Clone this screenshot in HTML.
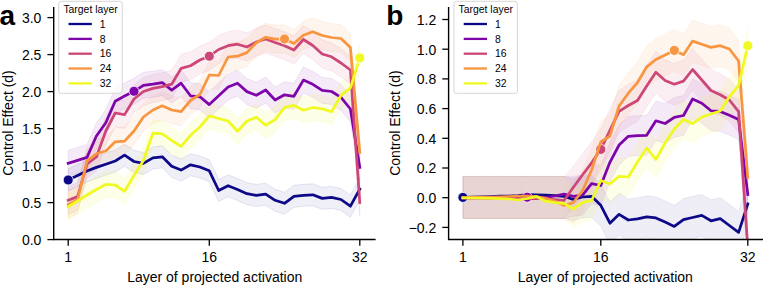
<!DOCTYPE html>
<html><head><meta charset="utf-8"><style>
html,body{margin:0;padding:0;background:#fff;}
svg{display:block;}
.t{font-family:"Liberation Sans",sans-serif;font-size:14px;fill:#000;}
.lg{font-family:"Liberation Sans",sans-serif;font-size:10.4px;fill:#000;}
.big{font-family:"Liberation Sans",sans-serif;font-size:28px;font-weight:bold;fill:#000;}
</style></head><body>
<svg width="763" height="285" viewBox="0 0 763 285">
<clipPath id="ca"><rect x="53.7" y="7.1" width="321.90000000000003" height="232.4"/></clipPath>
<g clip-path="url(#ca)">
<polygon points="68.2,169.0 77.6,164.5 87.0,160.0 96.4,156.4 105.8,153.2 115.2,150.0 124.6,144.2 134.0,150.5 143.4,152.4 152.9,146.9 162.3,145.8 171.7,155.3 181.1,159.1 190.5,153.8 199.9,156.0 209.3,159.8 218.7,179.5 228.1,174.7 237.5,178.5 246.9,182.7 256.3,184.4 265.7,183.2 275.1,189.3 284.5,192.3 293.9,185.3 303.4,184.3 312.8,183.8 322.2,187.4 331.6,186.4 341.0,188.5 350.4,195.2 359.8,178.0 359.8,200.0 350.4,217.2 341.0,210.5 331.6,208.4 322.2,209.4 312.8,205.8 303.4,206.3 293.9,207.3 284.5,214.3 275.1,211.3 265.7,205.2 256.3,206.4 246.9,204.7 237.5,200.5 228.1,196.7 218.7,201.5 209.3,181.8 199.9,178.0 190.5,175.8 181.1,181.1 171.7,177.3 162.3,167.8 152.9,168.9 143.4,174.4 134.0,172.5 124.6,166.2 115.2,172.0 105.8,175.2 96.4,178.4 87.0,182.0 77.6,186.5 68.2,191.0" fill="#0d0887" fill-opacity="0.065" stroke="#0d0887" stroke-opacity="0.09" stroke-width="1"/>
<polygon points="68.2,150.2 77.6,147.4 87.0,144.4 96.4,123.0 105.8,109.8 115.2,88.3 124.6,83.0 134.0,78.3 143.4,72.3 152.9,71.2 162.3,69.7 171.7,77.1 181.1,70.2 190.5,82.8 199.9,83.8 209.3,91.6 218.7,82.8 228.1,74.0 237.5,70.2 246.9,78.6 256.3,82.3 265.7,77.0 275.1,87.0 284.5,81.8 293.9,83.3 303.4,67.1 312.8,71.3 322.2,77.4 331.6,78.5 341.0,84.4 350.4,96.0 359.8,154.4 359.8,180.4 350.4,122.0 341.0,110.4 331.6,104.5 322.2,103.4 312.8,97.3 303.4,93.1 293.9,109.3 284.5,107.8 275.1,113.0 265.7,103.0 256.3,108.3 246.9,104.6 237.5,96.2 228.1,100.0 218.7,108.8 209.3,117.6 199.9,109.8 190.5,108.8 181.1,96.2 171.7,103.1 162.3,95.7 152.9,97.2 143.4,98.3 134.0,104.3 124.6,109.0 115.2,114.3 105.8,135.8 96.4,149.0 87.0,170.4 77.6,173.4 68.2,176.2" fill="#7e03a8" fill-opacity="0.08" stroke="#7e03a8" stroke-opacity="0.09" stroke-width="1"/>
<polygon points="68.2,186.3 77.6,182.6 87.0,150.0 96.4,143.0 105.8,117.0 115.2,99.0 124.6,100.6 134.0,85.0 143.4,77.5 152.9,74.4 162.3,72.7 171.7,70.2 181.1,54.4 190.5,51.7 199.9,46.0 209.3,42.2 218.7,35.5 228.1,31.7 237.5,30.2 246.9,33.0 256.3,28.0 265.7,25.0 275.1,28.5 284.5,31.7 293.9,36.0 303.4,25.5 312.8,31.5 322.2,40.0 331.6,42.8 341.0,49.0 350.4,56.0 359.8,188.6 359.8,216.6 350.4,84.0 341.0,77.0 331.6,70.8 322.2,68.0 312.8,59.5 303.4,53.5 293.9,64.0 284.5,59.7 275.1,56.5 265.7,53.0 256.3,56.0 246.9,61.0 237.5,58.2 228.1,59.7 218.7,63.5 209.3,70.2 199.9,74.0 190.5,79.7 181.1,82.4 171.7,98.2 162.3,100.7 152.9,102.4 143.4,105.5 134.0,113.0 124.6,128.6 115.2,127.0 105.8,145.0 96.4,171.0 87.0,178.0 77.6,210.6 68.2,214.3" fill="#cc4778" fill-opacity="0.085" stroke="#cc4778" stroke-opacity="0.09" stroke-width="1"/>
<polygon points="68.2,190.5 77.6,185.7 87.0,146.8 96.4,139.8 105.8,137.0 115.2,127.8 124.6,127.1 134.0,117.0 143.4,103.0 152.9,96.0 162.3,91.8 171.7,96.0 181.1,97.7 190.5,86.5 199.9,80.5 209.3,61.0 218.7,61.5 228.1,43.0 237.5,42.2 246.9,38.6 256.3,28.8 265.7,23.3 275.1,25.1 284.5,25.0 293.9,29.5 303.4,21.3 312.8,17.7 322.2,21.5 331.6,23.5 341.0,24.5 350.4,33.6 359.8,138.6 359.8,166.6 350.4,61.6 341.0,52.5 331.6,51.5 322.2,49.5 312.8,45.7 303.4,49.3 293.9,57.5 284.5,53.0 275.1,53.1 265.7,51.3 256.3,56.8 246.9,66.6 237.5,70.2 228.1,71.0 218.7,89.5 209.3,89.0 199.9,108.5 190.5,114.5 181.1,125.7 171.7,124.0 162.3,119.8 152.9,124.0 143.4,131.0 134.0,145.0 124.6,155.1 115.2,155.8 105.8,165.0 96.4,167.8 87.0,174.8 77.6,213.7 68.2,218.5" fill="#f89540" fill-opacity="0.09" stroke="#f89540" stroke-opacity="0.09" stroke-width="1"/>
<polygon points="68.2,193.6 77.6,188.0 87.0,182.0 96.4,176.5 105.8,171.4 115.2,172.0 124.6,178.3 134.0,162.5 143.4,147.5 152.9,120.2 162.3,120.8 171.7,127.5 181.1,133.4 190.5,122.3 199.9,114.0 209.3,102.8 218.7,105.5 228.1,108.0 237.5,118.2 246.9,108.0 256.3,104.3 265.7,112.3 275.1,106.6 284.5,94.5 293.9,92.4 303.4,97.2 312.8,94.5 322.2,95.9 331.6,98.7 341.0,82.3 350.4,74.9 359.8,44.9 359.8,70.9 350.4,100.9 341.0,108.3 331.6,124.7 322.2,121.9 312.8,120.5 303.4,123.2 293.9,118.4 284.5,120.5 275.1,132.6 265.7,138.3 256.3,130.3 246.9,134.0 237.5,144.2 228.1,134.0 218.7,131.5 209.3,128.8 199.9,140.0 190.5,148.3 181.1,159.4 171.7,153.5 162.3,146.8 152.9,146.2 143.4,173.5 134.0,188.5 124.6,204.3 115.2,198.0 105.8,197.4 96.4,202.5 87.0,208.0 77.6,214.0 68.2,219.6" fill="#f0f921" fill-opacity="0.1" stroke="#f0f921" stroke-opacity="0.09" stroke-width="1"/>
<polyline points="68.2,180.0 77.6,175.5 87.0,171.0 96.4,167.4 105.8,164.2 115.2,161.0 124.6,155.2 134.0,161.5 143.4,163.4 152.9,157.9 162.3,156.8 171.7,166.3 181.1,170.1 190.5,164.8 199.9,167.0 209.3,170.8 218.7,190.5 228.1,185.7 237.5,189.5 246.9,193.7 256.3,195.4 265.7,194.2 275.1,200.3 284.5,203.3 293.9,196.3 303.4,195.3 312.8,194.8 322.2,198.4 331.6,197.4 341.0,199.5 350.4,206.2 359.8,189.0" fill="none" stroke="#0d0887" stroke-width="2.75" stroke-linejoin="round" stroke-linecap="square"/>
<circle cx="68.2" cy="180.0" r="5" fill="#0d0887" stroke="#fff" stroke-width="0.8"/>
<polyline points="68.2,163.2 77.6,160.4 87.0,157.4 96.4,136.0 105.8,122.8 115.2,101.3 124.6,96.0 134.0,91.3 143.4,85.3 152.9,84.2 162.3,82.7 171.7,90.1 181.1,83.2 190.5,95.8 199.9,96.8 209.3,104.6 218.7,95.8 228.1,87.0 237.5,83.2 246.9,91.6 256.3,95.3 265.7,90.0 275.1,100.0 284.5,94.8 293.9,96.3 303.4,80.1 312.8,84.3 322.2,90.4 331.6,91.5 341.0,97.4 350.4,109.0 359.8,167.4" fill="none" stroke="#7e03a8" stroke-width="2.75" stroke-linejoin="round" stroke-linecap="square"/>
<circle cx="134.0" cy="91.3" r="5" fill="#7e03a8" stroke="#fff" stroke-width="0.8"/>
<polyline points="68.2,200.3 77.6,196.6 87.0,164.0 96.4,157.0 105.8,131.0 115.2,113.0 124.6,114.6 134.0,99.0 143.4,91.5 152.9,88.4 162.3,86.7 171.7,84.2 181.1,68.4 190.5,65.7 199.9,60.0 209.3,56.2 218.7,49.5 228.1,45.7 237.5,44.2 246.9,47.0 256.3,42.0 265.7,39.0 275.1,42.5 284.5,45.7 293.9,50.0 303.4,39.5 312.8,45.5 322.2,54.0 331.6,56.8 341.0,63.0 350.4,70.0 359.8,202.6" fill="none" stroke="#cc4778" stroke-width="2.75" stroke-linejoin="round" stroke-linecap="square"/>
<circle cx="209.3" cy="56.2" r="5" fill="#cc4778" stroke="#fff" stroke-width="0.8"/>
<polyline points="68.2,204.5 77.6,199.7 87.0,160.8 96.4,153.8 105.8,151.0 115.2,141.8 124.6,141.1 134.0,131.0 143.4,117.0 152.9,110.0 162.3,105.8 171.7,110.0 181.1,111.7 190.5,100.5 199.9,94.5 209.3,75.0 218.7,75.5 228.1,57.0 237.5,56.2 246.9,52.6 256.3,42.8 265.7,37.3 275.1,39.1 284.5,39.0 293.9,43.5 303.4,35.3 312.8,31.7 322.2,35.5 331.6,37.5 341.0,38.5 350.4,47.6 359.8,152.6" fill="none" stroke="#f89540" stroke-width="2.75" stroke-linejoin="round" stroke-linecap="square"/>
<circle cx="284.5" cy="39.0" r="5" fill="#f89540" stroke="#fff" stroke-width="0.8"/>
<polyline points="68.2,206.6 77.6,201.0 87.0,195.0 96.4,189.5 105.8,184.4 115.2,185.0 124.6,191.3 134.0,175.5 143.4,160.5 152.9,133.2 162.3,133.8 171.7,140.5 181.1,146.4 190.5,135.3 199.9,127.0 209.3,115.8 218.7,118.5 228.1,121.0 237.5,131.2 246.9,121.0 256.3,117.3 265.7,125.3 275.1,119.6 284.5,107.5 293.9,105.4 303.4,110.2 312.8,107.5 322.2,108.9 331.6,111.7 341.0,95.3 350.4,87.9 359.8,57.9" fill="none" stroke="#f0f921" stroke-width="2.75" stroke-linejoin="round" stroke-linecap="square"/>
<circle cx="359.8" cy="57.9" r="5" fill="#f0f921" stroke="#fff" stroke-width="0.8"/>
</g>
<path d="M53.7 7.1 V239.5 H375.6" fill="none" stroke="#000" stroke-width="1.4"/>
<line x1="47.400000000000006" y1="239.6" x2="53.7" y2="239.6" stroke="#000" stroke-width="1.3"/>
<text x="41.400000000000006" y="244.9" text-anchor="end" class="t">0.0</text>
<line x1="47.400000000000006" y1="202.6" x2="53.7" y2="202.6" stroke="#000" stroke-width="1.3"/>
<text x="41.400000000000006" y="207.9" text-anchor="end" class="t">0.5</text>
<line x1="47.400000000000006" y1="165.6" x2="53.7" y2="165.6" stroke="#000" stroke-width="1.3"/>
<text x="41.400000000000006" y="170.9" text-anchor="end" class="t">1.0</text>
<line x1="47.400000000000006" y1="128.6" x2="53.7" y2="128.6" stroke="#000" stroke-width="1.3"/>
<text x="41.400000000000006" y="133.9" text-anchor="end" class="t">1.5</text>
<line x1="47.400000000000006" y1="91.6" x2="53.7" y2="91.6" stroke="#000" stroke-width="1.3"/>
<text x="41.400000000000006" y="96.9" text-anchor="end" class="t">2.0</text>
<line x1="47.400000000000006" y1="54.6" x2="53.7" y2="54.6" stroke="#000" stroke-width="1.3"/>
<text x="41.400000000000006" y="59.9" text-anchor="end" class="t">2.5</text>
<line x1="47.400000000000006" y1="17.6" x2="53.7" y2="17.6" stroke="#000" stroke-width="1.3"/>
<text x="41.400000000000006" y="22.9" text-anchor="end" class="t">3.0</text>
<line x1="68.2" y1="239.5" x2="68.2" y2="245.8" stroke="#000" stroke-width="1.3"/>
<text x="68.2" y="262" text-anchor="middle" class="t">1</text>
<line x1="209.3" y1="239.5" x2="209.3" y2="245.8" stroke="#000" stroke-width="1.3"/>
<text x="209.3" y="262" text-anchor="middle" class="t">16</text>
<line x1="359.8" y1="239.5" x2="359.8" y2="245.8" stroke="#000" stroke-width="1.3"/>
<text x="359.8" y="262" text-anchor="middle" class="t">32</text>
<text x="214.7" y="281.8" text-anchor="middle" class="t">Layer of projected activation</text>
<text transform="translate(13.0,123) rotate(-90)" text-anchor="middle" class="t">Control Effect (d)</text>
<clipPath id="cb"><rect x="448.6" y="7.1" width="314.4" height="232.4"/></clipPath>
<g clip-path="url(#cb)">
<linearGradient id="gcbblue" gradientUnits="userSpaceOnUse" x1="564.0" y1="0" x2="577.8" y2="0"><stop offset="0" stop-color="#0d0887" stop-opacity="0.065"/><stop offset="1" stop-color="#0d0887" stop-opacity="0.07"/></linearGradient>
<polygon points="462.9,176.4 472.1,176.4 481.3,176.4 490.5,176.4 499.7,176.4 508.8,176.4 518.0,176.4 527.2,176.4 536.4,176.4 545.6,176.4 554.8,176.4 564.0,176.4 573.2,178.5 582.4,176.0 591.6,175.3 600.8,184.3 609.9,202.2 619.1,193.3 628.3,199.0 637.5,197.9 646.7,195.8 655.9,196.9 665.1,201.1 674.3,205.4 683.5,198.6 692.6,196.5 701.8,194.4 711.0,199.8 720.2,197.7 729.4,204.5 738.6,211.4 747.8,183.0 747.8,225.0 738.6,253.4 729.4,246.5 720.2,239.7 711.0,241.8 701.8,236.4 692.6,238.5 683.5,240.6 674.3,247.4 665.1,243.1 655.9,238.9 646.7,237.8 637.5,239.9 628.3,241.0 619.1,235.3 609.9,244.2 600.8,226.3 591.6,217.3 582.4,218.0 573.2,220.5 564.0,218.4 554.8,218.4 545.6,218.4 536.4,218.4 527.2,218.4 518.0,218.4 508.8,218.4 499.7,218.4 490.5,218.4 481.3,218.4 472.1,218.4 462.9,218.4" fill="url(#gcbblue)" stroke="#0d0887" stroke-opacity="0.07" stroke-width="1"/>
<linearGradient id="gcbpurple" gradientUnits="userSpaceOnUse" x1="564.0" y1="0" x2="577.8" y2="0"><stop offset="0" stop-color="#7e03a8" stop-opacity="0.065"/><stop offset="1" stop-color="#7e03a8" stop-opacity="0.085"/></linearGradient>
<polygon points="462.9,176.4 472.1,176.4 481.3,176.4 490.5,176.4 499.7,176.4 508.8,176.4 518.0,176.4 527.2,176.4 536.4,176.4 545.6,176.4 554.8,176.4 564.0,176.4 573.2,176.3 582.4,175.3 591.6,163.7 600.8,165.5 609.9,142.3 619.1,125.0 628.3,116.3 637.5,115.7 646.7,115.3 655.9,100.8 665.1,103.5 674.3,97.4 683.5,95.5 692.6,79.0 701.8,83.2 711.0,90.8 720.2,91.4 729.4,95.2 738.6,99.5 747.8,174.5 747.8,214.5 738.6,139.5 729.4,135.2 720.2,131.4 711.0,130.8 701.8,123.2 692.6,119.0 683.5,135.5 674.3,137.4 665.1,143.5 655.9,140.8 646.7,155.3 637.5,155.7 628.3,156.3 619.1,165.0 609.9,182.3 600.8,205.5 591.6,203.7 582.4,215.3 573.2,216.3 564.0,218.4 554.8,218.4 545.6,218.4 536.4,218.4 527.2,218.4 518.0,218.4 508.8,218.4 499.7,218.4 490.5,218.4 481.3,218.4 472.1,218.4 462.9,218.4" fill="url(#gcbpurple)" stroke="#7e03a8" stroke-opacity="0.07" stroke-width="1"/>
<linearGradient id="gcbpink" gradientUnits="userSpaceOnUse" x1="564.0" y1="0" x2="577.8" y2="0"><stop offset="0" stop-color="#cc4778" stop-opacity="0.065"/><stop offset="1" stop-color="#cc4778" stop-opacity="0.09"/></linearGradient>
<polygon points="462.9,176.4 472.1,176.4 481.3,176.4 490.5,176.4 499.7,176.4 508.8,176.4 518.0,176.4 527.2,176.4 536.4,176.4 545.6,176.4 554.8,176.4 564.0,176.4 573.2,166.5 582.4,154.0 591.6,141.8 600.8,128.4 609.9,109.3 619.1,90.3 628.3,84.5 637.5,79.5 646.7,65.0 655.9,51.3 665.1,59.5 674.3,63.2 683.5,60.1 692.6,48.5 701.8,59.0 711.0,69.5 720.2,73.7 729.4,79.0 738.6,90.6 747.8,227.0 747.8,269.0 738.6,132.6 729.4,121.0 720.2,115.7 711.0,111.5 701.8,101.0 692.6,90.5 683.5,102.1 674.3,105.2 665.1,101.5 655.9,93.3 646.7,107.0 637.5,121.5 628.3,126.5 619.1,132.3 609.9,151.3 600.8,170.4 591.6,183.8 582.4,196.0 573.2,208.5 564.0,218.4 554.8,218.4 545.6,218.4 536.4,218.4 527.2,218.4 518.0,218.4 508.8,218.4 499.7,218.4 490.5,218.4 481.3,218.4 472.1,218.4 462.9,218.4" fill="url(#gcbpink)" stroke="#cc4778" stroke-opacity="0.07" stroke-width="1"/>
<linearGradient id="gcborange" gradientUnits="userSpaceOnUse" x1="564.0" y1="0" x2="577.8" y2="0"><stop offset="0" stop-color="#f89540" stop-opacity="0.065"/><stop offset="1" stop-color="#f89540" stop-opacity="0.09"/></linearGradient>
<polygon points="462.9,176.4 472.1,176.4 481.3,176.4 490.5,176.4 499.7,176.4 508.8,176.4 518.0,176.4 527.2,176.4 536.4,176.4 545.6,176.4 554.8,176.4 564.0,176.4 573.2,181.6 582.4,170.0 591.6,149.0 600.8,121.0 609.9,115.0 619.1,85.0 628.3,72.2 637.5,61.6 646.7,45.8 655.9,38.5 665.1,34.0 674.3,29.4 683.5,33.7 692.6,20.1 701.8,23.2 711.0,26.4 720.2,24.7 729.4,28.0 738.6,40.0 747.8,156.6 747.8,198.6 738.6,82.0 729.4,70.0 720.2,66.7 711.0,68.4 701.8,65.2 692.6,62.1 683.5,75.7 674.3,71.4 665.1,76.0 655.9,80.5 646.7,87.8 637.5,103.6 628.3,114.2 619.1,127.0 609.9,157.0 600.8,163.0 591.6,191.0 582.4,212.0 573.2,223.6 564.0,218.4 554.8,218.4 545.6,218.4 536.4,218.4 527.2,218.4 518.0,218.4 508.8,218.4 499.7,218.4 490.5,218.4 481.3,218.4 472.1,218.4 462.9,218.4" fill="url(#gcborange)" stroke="#f89540" stroke-opacity="0.07" stroke-width="1"/>
<linearGradient id="gcbyellow" gradientUnits="userSpaceOnUse" x1="564.0" y1="0" x2="577.8" y2="0"><stop offset="0" stop-color="#f0f921" stop-opacity="0.065"/><stop offset="1" stop-color="#f0f921" stop-opacity="0.1"/></linearGradient>
<polygon points="462.9,176.4 472.1,176.4 481.3,176.4 490.5,176.4 499.7,176.4 508.8,176.4 518.0,176.4 527.2,176.4 536.4,176.4 545.6,176.4 554.8,176.4 564.0,176.4 573.2,190.0 582.4,183.6 591.6,181.5 600.8,161.5 609.9,165.0 619.1,157.3 628.3,158.0 637.5,143.0 646.7,128.9 655.9,140.5 665.1,124.0 674.3,110.0 683.5,100.5 692.6,104.7 701.8,98.0 711.0,95.0 720.2,92.0 729.4,77.8 738.6,66.3 747.8,26.7 747.8,64.7 738.6,104.3 729.4,115.8 720.2,130.0 711.0,133.0 701.8,136.0 692.6,142.7 683.5,138.5 674.3,148.0 665.1,162.0 655.9,178.5 646.7,166.9 637.5,181.0 628.3,196.0 619.1,195.3 609.9,203.0 600.8,199.5 591.6,219.5 582.4,221.6 573.2,228.0 564.0,218.4 554.8,218.4 545.6,218.4 536.4,218.4 527.2,218.4 518.0,218.4 508.8,218.4 499.7,218.4 490.5,218.4 481.3,218.4 472.1,218.4 462.9,218.4" fill="url(#gcbyellow)" stroke="#f0f921" stroke-opacity="0.07" stroke-width="1"/>
<polyline points="462.9,197.4 472.1,197.2 481.3,196.8 490.5,196.5 499.7,196.2 508.8,196.0 518.0,195.5 527.2,194.6 536.4,194.8 545.6,195.2 554.8,195.6 564.0,196.3 573.2,199.5 582.4,197.0 591.6,196.3 600.8,205.3 609.9,223.2 619.1,214.3 628.3,220.0 637.5,218.9 646.7,216.8 655.9,217.9 665.1,222.1 674.3,226.4 683.5,219.6 692.6,217.5 701.8,215.4 711.0,220.8 720.2,218.7 729.4,225.5 738.6,232.4 747.8,204.0" fill="none" stroke="#0d0887" stroke-width="2.75" stroke-linejoin="round" stroke-linecap="square"/>
<circle cx="462.9" cy="197.4" r="5" fill="#0d0887" stroke="#fff" stroke-width="0.8"/>
<polyline points="462.9,197.5 472.1,197.5 481.3,197.5 490.5,197.4 499.7,197.3 508.8,197.2 518.0,197.0 527.2,197.2 536.4,197.0 545.6,197.5 554.8,196.0 564.0,194.2 573.2,196.3 582.4,195.3 591.6,183.7 600.8,185.5 609.9,162.3 619.1,145.0 628.3,136.3 637.5,135.7 646.7,135.3 655.9,120.8 665.1,123.5 674.3,117.4 683.5,115.5 692.6,99.0 701.8,103.2 711.0,110.8 720.2,111.4 729.4,115.2 738.6,119.5 747.8,194.5" fill="none" stroke="#7e03a8" stroke-width="2.75" stroke-linejoin="round" stroke-linecap="square"/>
<circle cx="527.2" cy="197.2" r="5" fill="#7e03a8" stroke="#fff" stroke-width="0.8"/>
<polyline points="462.9,198.0 472.1,198.0 481.3,198.2 490.5,198.3 499.7,198.5 508.8,198.6 518.0,198.8 527.2,198.6 536.4,198.5 545.6,198.8 554.8,199.5 564.0,200.5 573.2,187.5 582.4,175.0 591.6,162.8 600.8,149.4 609.9,130.3 619.1,111.3 628.3,105.5 637.5,100.5 646.7,86.0 655.9,72.3 665.1,80.5 674.3,84.2 683.5,81.1 692.6,69.5 701.8,80.0 711.0,90.5 720.2,94.7 729.4,100.0 738.6,111.6 747.8,248.0" fill="none" stroke="#cc4778" stroke-width="2.75" stroke-linejoin="round" stroke-linecap="square"/>
<circle cx="600.8" cy="149.4" r="5" fill="#cc4778" stroke="#fff" stroke-width="0.8"/>
<polyline points="462.9,197.5 472.1,197.3 481.3,197.0 490.5,197.0 499.7,196.8 508.8,196.5 518.0,196.2 527.2,196.0 536.4,196.5 545.6,198.4 554.8,201.0 564.0,205.5 573.2,202.6 582.4,191.0 591.6,170.0 600.8,142.0 609.9,136.0 619.1,106.0 628.3,93.2 637.5,82.6 646.7,66.8 655.9,59.5 665.1,55.0 674.3,50.4 683.5,54.7 692.6,41.1 701.8,44.2 711.0,47.4 720.2,45.7 729.4,49.0 738.6,61.0 747.8,177.6" fill="none" stroke="#f89540" stroke-width="2.75" stroke-linejoin="round" stroke-linecap="square"/>
<circle cx="674.3" cy="50.4" r="5" fill="#f89540" stroke="#fff" stroke-width="0.8"/>
<polyline points="462.9,197.8 472.1,198.0 481.3,198.2 490.5,198.4 499.7,198.6 508.8,199.0 518.0,200.0 527.2,198.5 536.4,196.6 545.6,201.2 554.8,202.6 564.0,203.3 573.2,209.0 582.4,202.6 591.6,200.5 600.8,180.5 609.9,184.0 619.1,176.3 628.3,177.0 637.5,162.0 646.7,147.9 655.9,159.5 665.1,143.0 674.3,129.0 683.5,119.5 692.6,123.7 701.8,117.0 711.0,114.0 720.2,111.0 729.4,96.8 738.6,85.3 747.8,45.7" fill="none" stroke="#f0f921" stroke-width="2.75" stroke-linejoin="round" stroke-linecap="square"/>
<circle cx="747.8" cy="45.7" r="5" fill="#f0f921" stroke="#fff" stroke-width="0.8"/>
</g>
<path d="M448.6 7.1 V239.5 H763" fill="none" stroke="#000" stroke-width="1.4"/>
<line x1="442.3" y1="227.4" x2="448.6" y2="227.4" stroke="#000" stroke-width="1.3"/>
<text x="436.3" y="232.7" text-anchor="end" class="t">−0.2</text>
<line x1="442.3" y1="197.7" x2="448.6" y2="197.7" stroke="#000" stroke-width="1.3"/>
<text x="436.3" y="203.0" text-anchor="end" class="t">0.0</text>
<line x1="442.3" y1="168.0" x2="448.6" y2="168.0" stroke="#000" stroke-width="1.3"/>
<text x="436.3" y="173.3" text-anchor="end" class="t">0.2</text>
<line x1="442.3" y1="138.3" x2="448.6" y2="138.3" stroke="#000" stroke-width="1.3"/>
<text x="436.3" y="143.6" text-anchor="end" class="t">0.4</text>
<line x1="442.3" y1="108.6" x2="448.6" y2="108.6" stroke="#000" stroke-width="1.3"/>
<text x="436.3" y="113.9" text-anchor="end" class="t">0.6</text>
<line x1="442.3" y1="78.9" x2="448.6" y2="78.9" stroke="#000" stroke-width="1.3"/>
<text x="436.3" y="84.2" text-anchor="end" class="t">0.8</text>
<line x1="442.3" y1="49.2" x2="448.6" y2="49.2" stroke="#000" stroke-width="1.3"/>
<text x="436.3" y="54.5" text-anchor="end" class="t">1.0</text>
<line x1="442.3" y1="19.5" x2="448.6" y2="19.5" stroke="#000" stroke-width="1.3"/>
<text x="436.3" y="24.8" text-anchor="end" class="t">1.2</text>
<line x1="462.9" y1="239.5" x2="462.9" y2="245.8" stroke="#000" stroke-width="1.3"/>
<text x="462.9" y="262" text-anchor="middle" class="t">1</text>
<line x1="600.8" y1="239.5" x2="600.8" y2="245.8" stroke="#000" stroke-width="1.3"/>
<text x="600.8" y="262" text-anchor="middle" class="t">16</text>
<line x1="747.8" y1="239.5" x2="747.8" y2="245.8" stroke="#000" stroke-width="1.3"/>
<text x="747.8" y="262" text-anchor="middle" class="t">32</text>
<text x="605.3" y="281.8" text-anchor="middle" class="t">Layer of projected activation</text>
<text transform="translate(399.8,123) rotate(-90)" text-anchor="middle" class="t">Control Effect (d)</text>
<rect x="58.7" y="1.3" width="63.5" height="92" rx="2.5" fill="#fff" fill-opacity="0.8" stroke="#d6d6d6" stroke-width="1"/>
<text x="63.400000000000006" y="12.7" class="lg">Target layer</text>
<line x1="68.5" y1="24.0" x2="91.80000000000001" y2="24.0" stroke="#0d0887" stroke-width="2.3"/>
<text x="99.7" y="27.7" class="lg">1</text>
<line x1="68.5" y1="38.9" x2="91.80000000000001" y2="38.9" stroke="#7e03a8" stroke-width="2.3"/>
<text x="99.7" y="42.6" class="lg">8</text>
<line x1="68.5" y1="53.7" x2="91.80000000000001" y2="53.7" stroke="#cc4778" stroke-width="2.3"/>
<text x="99.7" y="57.4" class="lg">16</text>
<line x1="68.5" y1="68.5" x2="91.80000000000001" y2="68.5" stroke="#f89540" stroke-width="2.3"/>
<text x="99.7" y="72.2" class="lg">24</text>
<line x1="68.5" y1="83.4" x2="91.80000000000001" y2="83.4" stroke="#f0f921" stroke-width="2.3"/>
<text x="99.7" y="87.1" class="lg">32</text>
<rect x="453.9" y="1.3" width="63.5" height="92" rx="2.5" fill="#fff" fill-opacity="0.8" stroke="#d6d6d6" stroke-width="1"/>
<text x="458.59999999999997" y="12.7" class="lg">Target layer</text>
<line x1="463.7" y1="24.0" x2="487.0" y2="24.0" stroke="#0d0887" stroke-width="2.3"/>
<text x="494.9" y="27.7" class="lg">1</text>
<line x1="463.7" y1="38.9" x2="487.0" y2="38.9" stroke="#7e03a8" stroke-width="2.3"/>
<text x="494.9" y="42.6" class="lg">8</text>
<line x1="463.7" y1="53.7" x2="487.0" y2="53.7" stroke="#cc4778" stroke-width="2.3"/>
<text x="494.9" y="57.4" class="lg">16</text>
<line x1="463.7" y1="68.5" x2="487.0" y2="68.5" stroke="#f89540" stroke-width="2.3"/>
<text x="494.9" y="72.2" class="lg">24</text>
<line x1="463.7" y1="83.4" x2="487.0" y2="83.4" stroke="#f0f921" stroke-width="2.3"/>
<text x="494.9" y="87.1" class="lg">32</text>
<text x="-0.5" y="25.2" class="big">a</text>
<text x="386.3" y="25.2" class="big">b</text>
</svg>
</body></html>
